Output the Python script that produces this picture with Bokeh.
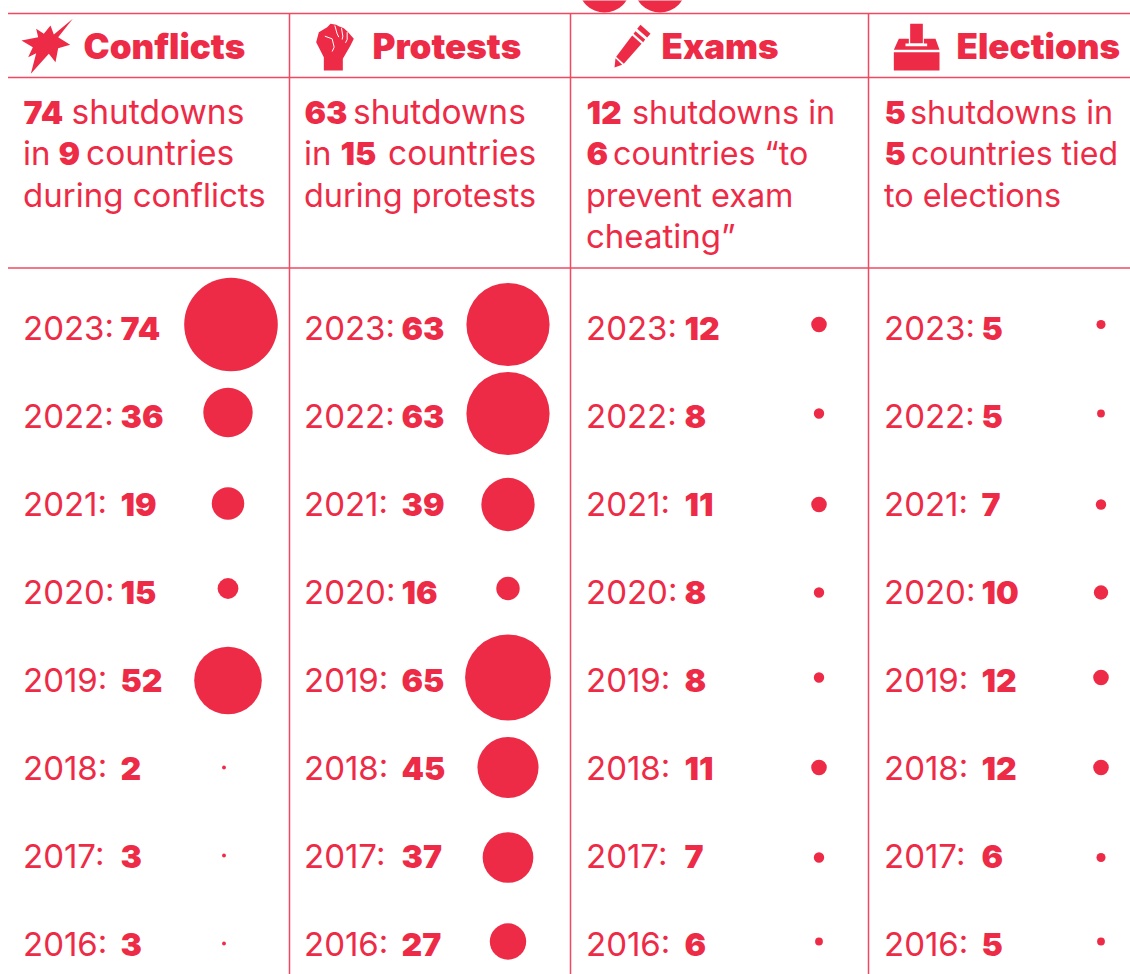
from bokeh.plotting import figure
from bokeh.models import Range1d
from bokeh.embed import file_html
from bokeh.resources import INLINE
from bokeh.core.properties import value

# ---- data ----
years = [2023, 2022, 2021, 2020, 2019, 2018, 2017, 2016]
categories = ["Conflicts", "Protests", "Exams", "Elections"]
conflicts = [74, 36, 19, 15, 52, 2, 3, 3]
protests = [63, 63, 39, 16, 65, 45, 37, 27]
exams = [12, 8, 11, 8, 8, 11, 7, 6]
elections = [5, 5, 7, 10, 12, 12, 6, 5]
# bubble readings, in the same units, as drawn in the picture
conflicts_bubble = [72, 38, 25, 16, 52, 3, 3, 3]
protests_bubble = [64, 64, 41, 18, 66, 47, 39, 28]
exams_bubble = [12, 8, 12, 8, 8, 12, 8, 6]
elections_bubble = [7, 6, 8, 11, 12, 12, 7, 6]
previous_panel_bubble = [40, 40]

# ---- layout / style ----
RED = "#EE2B46"
LINE = "#EF4A62"
REG = value("Inter")
BLACK = value("Inter Black")
W, H = 1130, 974
BUBBLE_PX = 1.3
col_x = [24, 305, 587, 885]
value_x = [121, 402, 685, 982]
head_x = [84, 373, 662, 957]
bubble_x = [[230.5, 227.5, 227.5, 227.5, 227.5, 223.5, 223.5, 223.5], [507.5] * 8, [818.5] * 8, [1100.5] * 8]
bubble_y = [[324, 412, 503, 588, 680, 767, 855, 943],
            [324, 413, 504, 588, 677, 767, 857, 941],
            [324, 413, 504, 592, 677, 767, 857, 941],
            [324, 413, 504, 592, 677, 767, 857, 941]]
row_base = [340 + 88 * i for i in range(8)]
desc_base = [124, 165, 207, 248]

p = figure(width=W, height=H, output_backend="svg", toolbar_location=None,
           x_range=Range1d(0, W), y_range=Range1d(H, 0), min_border=0,
           outline_line_color=None,
           styles={"position": "absolute", "left": "0", "top": "0"})
p.xaxis.visible = False
p.yaxis.visible = False
p.grid.visible = False

# rules
for y in (13, 77, 267.5):
    p.segment(7.5, y, W, y, line_color=LINE, line_width=1.5)
for x in (289, 570, 868):
    p.segment(x, 13, x, H, line_color=LINE, line_width=1.5)

# clipped bubbles of the panel above
p.scatter([604, 659.5], [-14, -14], size=[v * BUBBLE_PX for v in previous_panel_bubble],
          color=RED, line_color=None)


def txt(x, y, s, font, size):
    # rendered origin sits lower than asked, in proportion to the font size
    p.text([x - 1.5], [y - 0.385 * size], text=[s], text_font=font, text_font_size=f"{size}px", text_color=RED,
           text_baseline="alphabetic", text_align="left")


# headers
for x, c in zip(head_x, categories):
    txt(x + 0.5, 59, c, BLACK, 35)

# description runs: (text, is_bold, x, line, size)
desc = [
    ("74", 1, 24.5, 0, 32), ("shutdowns", 0, 72.5, 0, 33.5), ("in", 0, 24, 1, 33), ("9", 1, 59.5, 1, 32),
    ("countries", 0, 87, 1, 33.5), ("during conflicts", 0, 24, 2, 33),
    ("63", 1, 305.5, 0, 32), ("shutdowns", 0, 354, 0, 33.5), ("in", 0, 305, 1, 33), ("15", 1, 341.5, 1, 32),
    ("countries", 0, 389, 1, 33.5), ("during protests", 0, 305, 2, 32.4),
    ("12", 1, 587.5, 0, 32), ("shutdowns in", 0, 633, 0, 32.4), ("6", 1, 587.5, 1, 32), ("countries “to", 0, 614, 1, 32.2),
    ("prevent exam", 0, 587, 2, 32.4), ("cheating”", 0, 587, 3, 33),
    ("5", 1, 885.5, 0, 32), ("shutdowns in", 0, 911, 0, 32.4), ("5", 1, 885.5, 1, 32), ("countries tied", 0, 912, 1, 32),
    ("to elections", 0, 885, 2, 32.4),
]
for s, b, x, l, sz in desc:
    txt(x, desc_base[l], s, BLACK if b else REG, sz)

# rows
series = [conflicts, protests, exams, elections]
bubbles = [conflicts_bubble, protests_bubble, exams_bubble, elections_bubble]
for c in range(4):
    for i, yr in enumerate(years):
        txt(col_x[c], row_base[i], f"{yr}:", REG, 33)
        txt(value_x[c] + 0.5, row_base[i], str(series[c][i]), BLACK, 32)
    p.scatter(bubble_x[c], bubble_y[c], size=[v * BUBBLE_PX for v in bubbles[c]],
              color=RED, line_color=None)


# icons (traced at 3x from a local origin)
def icon(ox, oy, pts, **kw):
    p.patch([ox + a / 3 for a, _ in pts], [oy + b / 3 for _, b in pts], color=RED, line_color=None, **kw)


def stroke(ox, oy, pts, w=1.0):
    p.line([ox + a / 3 for a, _ in pts], [oy + b / 3 for _, b in pts], line_color="white", line_width=w)


icon(15, 10, [(172, 25), (128, 80), (164, 103), (128, 113), (120, 155), (100, 130), (46, 190), (62, 128),
              (38, 140), (52, 110), (18, 90), (68, 80), (62, 55), (85, 70), (105, 45), (115, 72)])
icon(305, 15, [(55, 165), (55, 125), (32, 80), (40, 50), (65, 35), (75, 25), (92, 28), (100, 32), (115, 38),
               (128, 50), (145, 70), (135, 90), (112, 130), (112, 165)])
stroke(305, 15, [(58, 62), (80, 70), (86, 95), (80, 108)])
stroke(305, 15, [(88, 30), (95, 55), (100, 65)])
stroke(305, 15, [(108, 38), (112, 62), (110, 72)])
stroke(305, 15, [(125, 50), (125, 72), (120, 82)])
icon(605, 15, [(105, 28), (135, 55), (125, 66), (95, 40)])
icon(605, 15, [(90, 47), (119, 72), (113, 80), (84, 55)])
icon(605, 15, [(80, 60), (108, 85), (55, 145), (32, 124)])
icon(605, 15, [(30, 128), (50, 148), (27, 156)])
icon(885, 15, [(74, 25), (112, 25), (112, 83), (74, 83)])
icon(885, 15, [(25, 103), (40, 70), (70, 70), (70, 84), (60, 84), (60, 92), (125, 92), (125, 84), (115, 84),
               (115, 70), (150, 70), (162, 103)])
icon(885, 15, [(25, 110), (162, 110), (162, 165), (25, 165)])

open("out.html", "w").write(file_html(p, INLINE))
